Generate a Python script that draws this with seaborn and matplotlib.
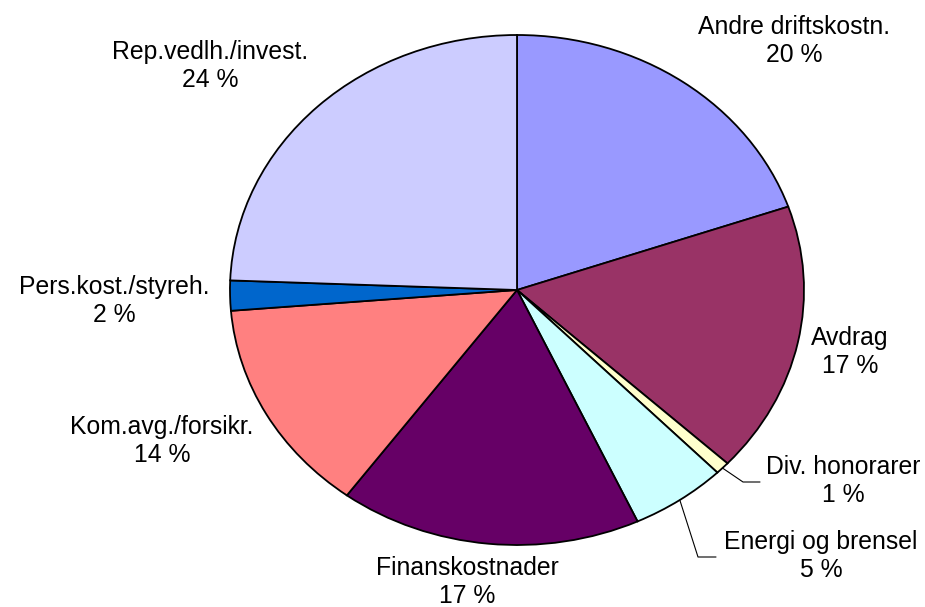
# Cost breakdown pie chart (elliptical, Excel-style)
import numpy as np
import seaborn as sns
import matplotlib.pyplot as plt
import matplotlib

sns.set_style('white')
matplotlib.rcParams['font.family'] = ['Liberation Sans', 'DejaVu Sans']

# Data: clockwise from 12 o'clock
categories = ['Andre driftskostn.', 'Avdrag', 'Div. honorarer', 'Energi og brensel',
              'Finanskostnader', 'Kom.avg./forsikr.', 'Pers.kost./styreh.', 'Rep.vedlh./invest.']
shares = [19.7, 17.2, 0.8, 5.4, 17.0, 13.6, 1.9, 24.4]
colors = ['#9999FF', '#993366', '#FFFFCC', '#CCFFFF',
          '#660066', '#FF8080', '#0066CC', '#CCCCFF']

# Layout in pixels (925x607 canvas): pie centre and radii,
# label anchors (centre x, baseline of the percent line)
W, H = 925, 607
cx, cy, rx, ry = 517, 290, 287, 255
label_px = [(794, 62), (850, 373), (843, 502), (821, 577),
            (467, 603), (162, 462), (114, 322), (210, 87)]
leader_px = {2: [(743, 482), (760, 482)], 3: [(698, 557), (716, 557)]}


def px2data(px, py):
    return (px - cx) / rx, (cy - py) / ry


fig = plt.figure(figsize=(W / 100, H / 100), dpi=100)
ax = fig.add_axes([0, 0, 1, 1])
wedges, _ = ax.pie(shares, colors=colors, startangle=90, counterclock=False,
                   radius=1, center=(0, 0),
                   wedgeprops=dict(edgecolor='black', linewidth=1.3))
ax.set_aspect('auto')
ax.set_xlim(px2data(0, 0)[0], px2data(W, 0)[0])
ax.set_ylim(px2data(0, H)[1], px2data(0, 0)[1])
ax.set_axis_off()

for i, (name, val) in enumerate(zip(categories, shares)):
    x, y = px2data(*label_px[i])
    ax.text(x, y, f'{name}\n{round(val)} %', ha='center', va='baseline',
            multialignment='center', fontsize=17.8, color='black', linespacing=1.2)
    if i in leader_px:
        w = wedges[i]
        mid = np.deg2rad((w.theta1 + w.theta2) / 2)
        pts = [(np.cos(mid), np.sin(mid))] + [px2data(*p) for p in leader_px[i]]
        xs, ys = zip(*pts)
        ax.plot(xs, ys, color='black', linewidth=0.8)

fig.savefig('out.png', dpi=100)
